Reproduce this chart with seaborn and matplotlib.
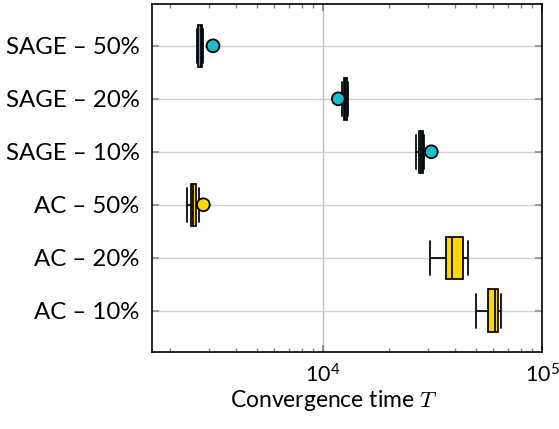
import numpy as np
import pandas as pd
import seaborn as sns
import matplotlib.pyplot as plt

# categories (top to bottom)
labels = ['SAGE – 50%', 'SAGE – 20%', 'SAGE – 10%', 'AC – 50%', 'AC – 20%', 'AC – 10%']
methods = ['SAGE', 'SAGE', 'SAGE', 'AC', 'AC', 'AC']

# five-number summaries: min, q1, median, q3, max
box_min = [2666, 12210, 26660, 2400, 30800, 49940]
box_q1 = [2694, 12400, 27430, 2487, 36320, 56480]
box_med = [2757, 12600, 27950, 2556, 38930, 60780]
box_q3 = [2810, 12800, 28520, 2630, 43420, 63130]
box_max = [2831, 13040, 28820, 2714, 45770, 64940]

# single circle markers
mark_labels = ['SAGE – 50%', 'SAGE – 20%', 'SAGE – 10%', 'AC – 50%']
mark_methods = ['SAGE', 'SAGE', 'SAGE', 'AC']
mark_values = [3144, 11740, 31220, 2840]

colors = {'SAGE': '#17becf', 'AC': '#ffd700'}

rows = []
for lab, met, a, b, c, d, e in zip(labels, methods, box_min, box_q1, box_med, box_q3, box_max):
    for v in (a, b, c, d, e):
        rows.append({'label': lab, 'method': met, 'T': v})
df = pd.DataFrame(rows)
marks = pd.DataFrame({'label': mark_labels, 'method': mark_methods, 'T': mark_values})

sns.set_theme(style="white")
plt.rcParams['font.family'] = ['Lato', 'DejaVu Sans']
plt.rcParams['mathtext.fontset'] = 'cm'
plt.rcParams['text.color'] = 'black'
plt.rcParams['xtick.color'] = 'black'
plt.rcParams['ytick.color'] = 'black'
plt.rcParams['axes.labelcolor'] = 'black'

fig = plt.figure(figsize=(5.59, 4.29), dpi=100)
ax = fig.add_axes([0.272, 0.1795, 0.6976, 0.8112])

sns.boxplot(data=df, x='T', y='label', hue='method', order=labels, palette=colors,
            dodge=False, saturation=1, whis=(0, 100), width=0.8, linecolor='black',
            linewidth=1.25, showfliers=False, legend=False, capwidths=0.64,
            ax=ax, zorder=3)
sns.scatterplot(data=marks, x='T', y='label', hue='method', palette=colors, s=85,
                edgecolor='black', linewidth=1.3, legend=False, ax=ax, zorder=4)

ax.set_xscale('log')
ax.set_xlim(1656, 1e5)
ax.set_ylim(5.78, -0.79)

ax.grid(True, axis='y', color='#d0d0d0', linewidth=1)
ax.grid(True, axis='x', which='major', color='#c0c0c0', linewidth=1)
ax.set_axisbelow(True)

ax.tick_params(axis='x', which='both', direction='in', top=True, bottom=True,
               color='#808080', labelsize=15.5, pad=8)
ax.tick_params(axis='x', which='major', length=5)
ax.tick_params(axis='x', which='minor', length=3)
ax.tick_params(axis='y', direction='in', left=True, right=True, length=5,
               color='#909090', labelsize=17.3, pad=9)
for s in ax.spines.values():
    s.set_color('black')
    s.set_linewidth(1.2)

ax.set_ylabel('')
ax.set_xlabel('Convergence time $T$', fontsize=16.5)
ax.xaxis.set_label_coords(0.467, -0.103)

fig.savefig('out.png', dpi=100)
